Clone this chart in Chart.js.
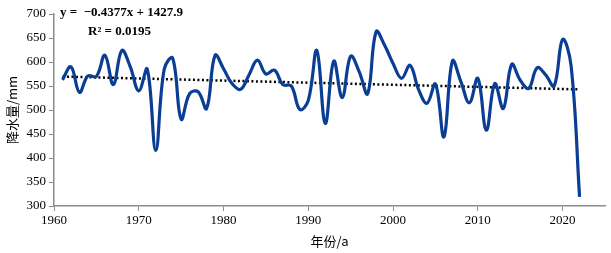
<!DOCTYPE html>
<html>
<head>
<meta charset="utf-8">
<script src="https://cdn.jsdelivr.net/npm/chart.js@4"></script>
<style>
  html, body { margin: 0; padding: 0; background: #fff; }
  #wrap { width: 611px; height: 253px; }
</style>
</head>
<body>
<div id="wrap"><canvas id="myChart" width="611" height="253"></canvas></div>
<script>
// precipitation per year
let years = [];
for (let y = 1961; y <= 2022; y++) years.push(y);
let rain = [
    563, 590, 537, 571, 570, 614, 553, 624, 590, 540,
    585, 416, 585, 608, 481, 534, 538, 503, 614, 586,
    555, 543, 573, 604, 575, 583, 553, 550, 501, 520,
    624, 472, 602, 526, 612, 580, 534, 663, 635, 597,
    566, 593, 543, 514, 554, 444, 602, 559, 515, 566,
    458, 555, 503, 595, 562, 545, 588, 573, 550, 647,
    592, 319
];
// dotted linear trend, end points
let trendYears = [1961, 2022];
let trendVals = [569.6, 542.9];
let xTicks = [1960, 1970, 1980, 1990, 2000, 2010, 2020];
let equation = 'y =  \u22120.4377x + 1427.9';
let rSquared = 'R\u00b2 = 0.0195';

const serif = '"Liberation Serif", "Times New Roman", serif';
const cjk = '"Noto Sans CJK SC", sans-serif';

const labelsPlugin = {
    id: 'labelsPlugin',
    afterDraw(chart) {
        const c = chart.ctx;
        c.save();
        c.fillStyle = '#000';
        c.font = 'bold 13px ' + serif;
        c.textBaseline = 'alphabetic';
        c.fillText(equation, 60, 16);
        c.fillText(rSquared, 88, 35);
        c.restore();
    }
};

let data = {
    datasets: [{
        label: 'rain',
        data: years.map((y, i) => ({x: y, y: rain[i]})),
        borderColor: '#0a3d94',
        borderWidth: 3.2,
        pointRadius: 0,
        tension: 0.4,
        fill: false
    }, {
        label: 'trend',
        data: trendYears.map((y, i) => ({x: y, y: trendVals[i]})),
        borderColor: '#000',
        borderWidth: 2.5,
        borderDash: [2, 2.5],
        pointRadius: 0,
        fill: false
    }]
};

let options = {
    responsive: false,
    animation: false,
    layout: {padding: {left: 0, right: 6, top: 14, bottom: 0}},
    plugins: {legend: {display: false}, tooltip: {enabled: false}},
    scales: {
        x: {
            type: 'linear',
            min: 1960,
            max: 2025,
            afterBuildTicks: s => { s.ticks = xTicks.map(v => ({value: v})); },
            afterFit: s => { s.height = 47; },
            border: {color: '#8c8c8c', width: 1.5},
            grid: {display: true, drawOnChartArea: false, drawTicks: true, tickLength: 5, color: '#8c8c8c'},
            ticks: {color: '#000', font: {family: serif, size: 13}, padding: 2, maxRotation: 0,
                    callback: v => String(v)},
            title: {display: true, text: '年份/a', color: '#000', font: {family: cjk, size: 13}, padding: {top: 2}}
        },
        y: {
            min: 300,
            max: 700,
            afterFit: s => { s.width = 54; },
            border: {color: '#8c8c8c', width: 1.5},
            grid: {display: true, drawOnChartArea: false, drawTicks: true, tickLength: 5, color: '#8c8c8c'},
            ticks: {stepSize: 50, color: '#000', font: {family: serif, size: 13}, padding: 3},
            title: {display: true, text: '降水量/mm', color: '#000', font: {family: cjk, size: 13}, padding: {bottom: 2}}
        }
    }
};

const ctx = document.getElementById('myChart');
let myChart = new Chart(ctx, {type: 'line', data: data, options: options, plugins: [labelsPlugin]});
</script>
</body>
</html>
